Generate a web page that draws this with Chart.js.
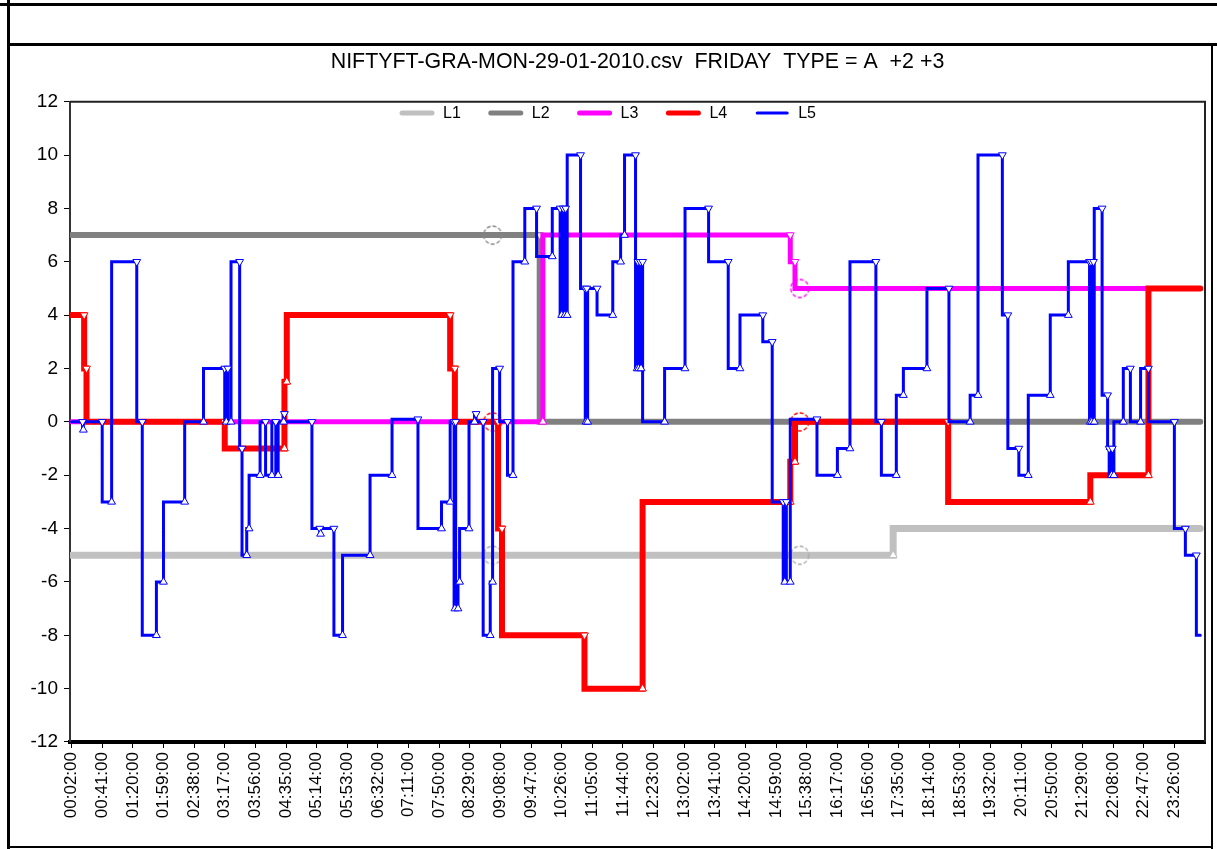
<!DOCTYPE html>
<html><head><meta charset="utf-8">
<script src="https://cdn.jsdelivr.net/npm/chart.js@4.4.1/dist/chart.umd.min.js"></script>
<style>
html,body{margin:0;padding:0;background:#fff;width:1217px;height:849px;overflow:hidden;position:relative}
.b{position:absolute;background:#000}
#wrap{position:absolute;left:10px;top:46px;width:1201px;height:800px}
</style></head><body>
<div class="b" style="left:0;top:3px;width:1217px;height:3px"></div>
<div class="b" style="left:7px;top:0;width:3px;height:849px"></div>
<div class="b" style="left:7px;top:43px;width:1210px;height:3px"></div>
<div class="b" style="left:1211px;top:44px;width:2px;height:805px"></div>
<div class="b" style="left:7px;top:846px;width:1206px;height:2px"></div>
<div id="wrap"><canvas id="c" width="1201" height="800"></canvas></div>
<script>
const titleText = "NIFTYFT-GRA-MON-29-01-2010.csv  FRIDAY  TYPE = A  +2 +3";
const seriesNames = ["L1","L2","L3","L4","L5"];
const tickLabels = ["00:02:00","00:41:00","01:20:00","01:59:00","02:38:00","03:17:00","03:56:00","04:35:00","05:14:00","05:53:00","06:32:00","07:11:00","07:50:00","08:29:00","09:08:00","09:47:00","10:26:00","11:05:00","11:44:00","12:23:00","13:02:00","13:41:00","14:20:00","14:59:00","15:38:00","16:17:00","16:56:00","17:35:00","18:14:00","18:53:00","19:32:00","20:11:00","20:50:00","21:29:00","22:08:00","22:47:00","23:26:00"];
const yTicks = [-12,-10,-8,-6,-4,-2,0,2,4,6,8,10,12];
// [minute of day where the level ends, level value]
const L1 = [[2,-5],[538,-5],[929,-5],[1048,-5],[1439,-4]];
const L2 = [[2,7],[538,7],[598,7],[929,0],[1439,0]];
const L3 = [[2,0],[538,0],[602,0],[917,7],[923,6],[929,5],[1439,5]];
const L4 = [[2,4],[18,4],[21,2],[197,0],[273,-1],[276,1.5],[484,4],[490,2],[538,0],[545,0],[550,-4],[655,-8],[729,-10],[917,-3],[923,-1.5],[929,0],[1118,0],[1299,-3],[1373,-2],[1439,5]];
const L5 = [[2,0],[16,0],[17,-0.3],[41,0],[53,-3],[85,6],[92,0],[110,-8],[119,-6],[146,-3],[170,0],[197,2],[199,0],[201,2],[205,0],[216,6],[219,-1],[225,-5],[228,-4],[242,-2],[249,0],[257,-2],[262,0],[265,-2],[272,0],[273,0.3],[308,0],[318,-4],[319,-4.2],[336,-4],[347,-8],[382,-5],[410,-2],[443,0.1],[473,-4],[484,-3],[489,0],[490,-7],[491,0],[494,-7],[496,-6],[508,-4],[515,0],[517,0.3],[526,0],[535,-8],[538,-6],[547,2],[557,0],[564,-2],[579,6],[594,8],[614,6.2],[624,8],[626,4],[628,8],[630,4],[631,8],[633,4],[650,10],[656,5],[657,0],[658,5],[659,0],[671,5],[691,4],[701,6],[706,7],[720,10],[722,2],[723,6],[724,2],[726,6],[727,2],[729,6],[757,0],[783,2],[813,8],[838,6],[853,2],[882,4],[894,3],[908,-3],[910,-6],[912,-3],[917,-6],[951,0.1],[977,-2],[993,-1],[1026,6],[1033,0],[1052,-2],[1061,1],[1091,2],[1119,5],[1146,0],[1156,1],[1187,10],[1194,4],[1208,-1],[1220,-2],[1248,1],[1271,4],[1298,6],[1299,0],[1300,6],[1301,0],[1303,6],[1304,0],[1314,8],[1321,1],[1323,-1],[1326,-2],[1327,-1],[1329,-2],[1341,0],[1350,2],[1363,0],[1373,2],[1406,0],[1420,-4],[1434,-5],[1439,-8]];
const circleAt = {L1:[538,929], L2:[538], L3:[929], L4:[538,929], L5:[]};

const FONT = '"Liberation Sans", Arial, sans-serif';
const tickMinutes = tickLabels.map(s => { const p = s.split(':'); return (+p[0])*60 + (+p[1]); });

function dashedCircle(color){
  const c = document.createElement('canvas'); c.width = 22; c.height = 22;
  const g = c.getContext('2d'); g.strokeStyle = color; g.lineWidth = 1.3; g.setLineDash([4,2]);
  g.beginPath(); g.arc(11,11,9,0,Math.PI*2); g.stroke(); return c;
}
function makeDs(name, arr, color, width, circColor, order){
  const circ = dashedCircle(circColor);
  const cset = circleAt[name];
  return {
    label: name, data: arr.map(([x,y]) => ({x, y})), order,
    borderColor: color, borderWidth: width, stepped: 'after', fill: false,
    borderCapStyle: 'round', borderJoinStyle: 'miter',
    pointBackgroundColor: 'rgba(255,255,255,1)', pointBorderColor: color, pointBorderWidth: 1,
    pointRadius: c => { const i = c.dataIndex; if (cset.includes(arr[i][0])) return 9;
      if (i === 0 || i === arr.length-1) return 0; return arr[i+1][1] !== arr[i][1] ? 4.5 : 0; },
    pointStyle: c => cset.includes(arr[c.dataIndex][0]) ? circ : 'triangle',
    pointRotation: c => { const i = c.dataIndex; return (i < arr.length-1 && arr[i+1][1] < arr[i][1] && !cset.includes(arr[i][0])) ? 180 : 0; }
  };
}
const legendIn = { id: 'legendIn', afterDraw(chart){
  const ctx = chart.ctx; ctx.save(); ctx.font = '16px ' + FONT; ctx.textBaseline = 'middle';
  let x = 390; const y = 67;
  chart.data.datasets.forEach(ds => {
    ctx.strokeStyle = ds.borderColor; ctx.lineWidth = Math.min(ds.borderWidth, 5); ctx.lineCap = 'round';
    ctx.beginPath(); ctx.moveTo(x+2, y); ctx.lineTo(x+32, y); ctx.stroke();
    ctx.fillStyle = '#000'; ctx.fillText(ds.label, x+43, y+1);
    x += 43 + ctx.measureText(ds.label).width + 28;
  });
  ctx.restore(); } };
const frame = { id: 'frame', afterDraw(chart){
  const {ctx, chartArea: a} = chart; ctx.save(); ctx.strokeStyle = '#222'; ctx.lineWidth = 2;
  ctx.beginPath(); ctx.moveTo(a.left, a.top); ctx.lineTo(a.right, a.top); ctx.lineTo(a.right, a.bottom); ctx.stroke();
  ctx.restore(); } };

new Chart(document.getElementById('c'), {
  type: 'line',
  data: { datasets: [
    makeDs(seriesNames[0], L1, '#C0C0C0', 7, '#aaaaaa', 4),
    makeDs(seriesNames[1], L2, '#808080', 6, '#888888', 3),
    makeDs(seriesNames[2], L3, '#FF00FF', 5, '#FF00FF', 2),
    makeDs(seriesNames[3], L4, '#FF0000', 6, '#FF0000', 1),
    makeDs(seriesNames[4], L5, '#0000FF', 3, '#0000FF', 0)
  ]},
  options: {
    responsive: false, devicePixelRatio: 1, animation: false, events: [],
    layout: { padding: { left: 0, right: 6, top: 0, bottom: 0 } },
    plugins: {
      legend: { display: false }, tooltip: { enabled: false },
      title: { display: true, fullSize: false, text: titleText, color: '#000', font: { size: 21.4, family: FONT, weight: 'normal' }, padding: { top: 3, bottom: 27 } }
    },
    scales: {
      x: { type: 'linear', min: 0, max: 1445,
        afterBuildTicks(s){ s.ticks = tickMinutes.map(v => ({ value: v })); },
        afterFit(s){ s.height = 104; },
        ticks: { autoSkip: false, maxRotation: 90, minRotation: 90, color: '#000', padding: 4,
          font: { size: 17, family: FONT }, callback: (v, i) => tickLabels[i] },
        grid: { drawOnChartArea: false, tickLength: 6, tickColor: '#000' },
        border: { color: '#000', width: 4 } },
      y: { min: -12, max: 12,
        afterBuildTicks(s){ s.ticks = yTicks.map(v => ({ value: v })); },
        afterFit(s){ s.width = 60; },
        ticks: { color: '#000', padding: 6, font: { size: 19, family: FONT } },
        grid: { drawOnChartArea: false, tickLength: 6, tickColor: '#000' },
        border: { color: '#333', width: 2 } }
    }
  },
  plugins: [legendIn, frame]
});
</script>
</body></html>
